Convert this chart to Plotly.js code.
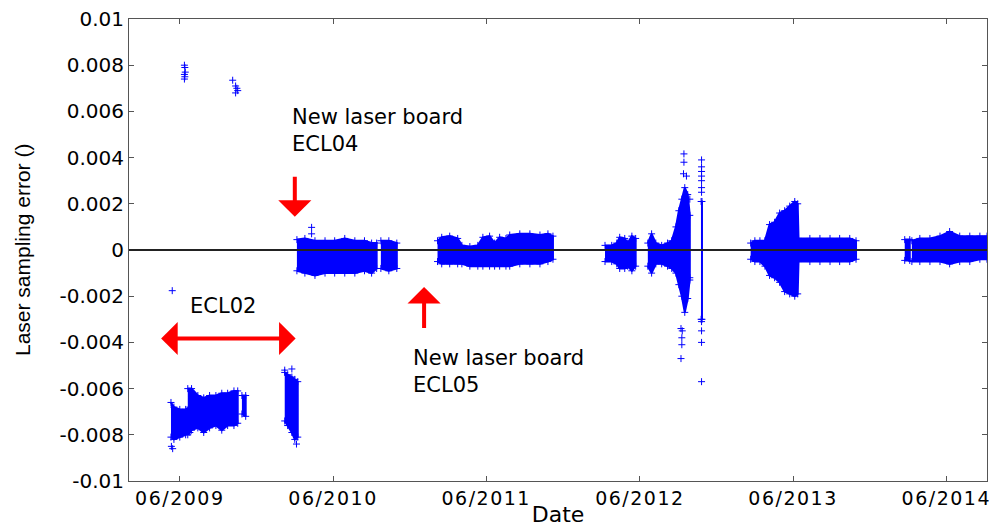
<!DOCTYPE html>
<html>
<head>
<meta charset="utf-8">
<script src="https://cdn.plot.ly/plotly-3.0.1.min.js"></script>
<style>
  html, body { margin: 0; padding: 0; background: #fff; }
  #chart { width: 998px; height: 527px; }
  .xtick text { letter-spacing: 1.5px; }
</style>
</head>
<body>
<div id="chart"></div>
<script>
// ---------- DATA ----------
// Each block: dates, upper edge (hi) and lower edge (lo) of the dense point cloud
const ecl02aDates = ['2009-05-11','2009-05-18','2009-06-01','2009-06-15','2009-06-25'];
const ecl02aHi = [-0.0066,-0.0068,-0.0069,-0.0069,-0.0068];
const ecl02aLo = [-0.0081,-0.0082,-0.0081,-0.0080,-0.0079];

const ecl02bDates = ['2009-06-20','2009-06-29','2009-07-14','2009-07-28','2009-08-11','2009-08-26','2009-09-09','2009-09-23','2009-10-08','2009-10-17'];
const ecl02bHi = [-0.0060,-0.0060,-0.0063,-0.0064,-0.0063,-0.0063,-0.0062,-0.0062,-0.0061,-0.0061];
const ecl02bLo = [-0.0080,-0.0078,-0.0077,-0.0079,-0.0077,-0.0076,-0.0078,-0.0076,-0.0076,-0.0075];

const ecl02cDates = ['2009-10-27','2009-11-05'];
const ecl02cHi = [-0.0063,-0.0063];
const ecl02cLo = [-0.0071,-0.0072];

const ecl02dDates = ['2010-02-06','2010-02-13','2010-02-23','2010-03-02','2010-03-09'];
const ecl02dHi = [-0.0053,-0.0054,-0.0055,-0.0056,-0.0057];
const ecl02dLo = [-0.0074,-0.0076,-0.0079,-0.0082,-0.0081];

const ecl04aDates = ['2010-03-07','2010-03-26','2010-04-19','2010-05-13','2010-06-05','2010-06-29','2010-07-23','2010-08-15','2010-09-01','2010-09-13'];
const ecl04aHi = [0.00045,0.0005,0.0004,0.0004,0.0004,0.0005,0.0004,0.0004,0.0003,0.0003];
const ecl04aLo = [-0.0009,-0.0010,-0.0011,-0.0010,-0.0010,-0.0010,-0.0010,-0.0009,-0.0010,-0.0008];

const ecl04bDates = ['2010-09-23','2010-10-12','2010-10-31'];
const ecl04bHi = [0.0004,0.0004,0.0003];
const ecl04bLo = [-0.0008,-0.0009,-0.0008];

const ecl05aDates = ['2011-02-05','2011-02-15','2011-03-06','2011-03-25','2011-04-04','2011-04-23','2011-05-12','2011-05-24','2011-06-09','2011-06-21','2011-07-03','2011-07-18','2011-07-27','2011-08-20','2011-09-13','2011-10-07','2011-10-26','2011-11-07'];
const ecl05aHi = [0.0004,0.00055,0.0006,0.0005,0.0002,0.00015,0.0002,0.00055,0.0006,0.0003,0.00055,0.0005,0.00065,0.0007,0.0007,0.00065,0.0007,0.0006];
const ecl05aLo = [-0.0005,-0.0006,-0.0006,-0.0006,-0.0006,-0.0007,-0.0007,-0.0007,-0.0007,-0.0007,-0.0007,-0.0007,-0.0007,-0.0006,-0.0006,-0.0006,-0.0005,-0.0004];

const y2012aDates = ['2012-03-10','2012-03-26','2012-04-07','2012-04-14','2012-04-26','2012-05-03','2012-05-13','2012-05-22'];
const y2012aHi = [0.0002,0.0002,0.0003,0.00055,0.0005,0.0003,0.0006,0.0005];
const y2012aLo = [-0.0005,-0.0005,-0.0006,-0.0008,-0.0008,-0.0007,-0.0009,-0.0007];

const y2012bDates = ['2012-06-20','2012-06-29','2012-07-09','2012-07-23','2012-08-06','2012-08-16','2012-08-26','2012-09-02','2012-09-09','2012-09-16','2012-09-23','2012-09-28'];
const y2012bHi = [0.0003,0.0007,0.0003,0.0002,0.0003,0.0004,0.0010,0.0017,0.0022,0.0027,0.0024,0.0015];
const y2012bLo = [-0.0007,-0.0010,-0.0006,-0.0006,-0.0007,-0.0008,-0.0010,-0.0015,-0.0020,-0.0027,-0.0021,-0.0012];

const y2012cDates = ['2012-10-25','2012-10-27'];
const y2012cHi = [0.0021,0.0021];
const y2012cLo = [-0.0030,-0.0030];

const y2013Dates = ['2013-02-20','2013-03-02','2013-03-14','2013-03-26','2013-04-06','2013-04-18','2013-04-30','2013-05-12','2013-05-24','2013-06-05','2013-06-12','2013-06-14','2013-07-11','2013-08-04','2013-08-28','2013-09-20','2013-10-14','2013-10-29'];
const y2013Hi = [0.0003,0.0004,0.0004,0.0004,0.0011,0.0012,0.0016,0.0017,0.0019,0.0021,0.0020,0.0005,0.0005,0.0005,0.0005,0.0005,0.0005,0.0004];
const y2013Lo = [-0.0004,-0.0005,-0.0005,-0.0007,-0.0011,-0.0012,-0.0014,-0.0018,-0.0019,-0.0020,-0.0019,-0.0005,-0.0005,-0.0005,-0.0005,-0.0005,-0.0005,-0.0004];

const y2014aDates = ['2014-02-22','2014-03-06'];
const y2014aHi = [0.00045,0.00045];
const y2014aLo = [-0.00045,-0.00045];

const y2014bDates = ['2014-03-11','2014-03-30','2014-04-23','2014-05-17','2014-06-09','2014-07-03','2014-07-27','2014-08-20','2014-09-06'];
const y2014bHi = [0.0004,0.0005,0.0005,0.0006,0.0008,0.0006,0.0006,0.0006,0.0006];
const y2014bLo = [-0.0005,-0.0005,-0.0005,-0.0005,-0.0006,-0.0005,-0.0005,-0.0004,-0.0004];

// Isolated points
const outlierDates = [
  '2009-05-14','2009-05-12','2009-05-15',
  '2009-06-12','2009-06-13','2009-06-14','2009-06-12','2009-06-13','2009-06-12',
  '2009-10-05','2009-10-12','2009-10-15','2009-10-17','2009-10-12',
  '2010-02-06','2010-02-23','2010-03-06',
  '2010-04-11','2010-04-11',
  '2012-09-14','2012-09-14','2012-09-13','2012-09-20','2012-09-28','2012-09-07','2012-09-10','2012-09-09','2012-09-09','2012-09-07','2012-09-28',
  '2012-10-26','2012-10-26','2012-10-26','2012-10-26','2012-10-26','2012-10-26','2012-10-26','2012-10-26','2012-10-26','2012-10-26','2012-10-26'
];
const outlierValues = [
  -0.00176,-0.0085,-0.0086,
  0.0080,0.0079,0.0077,0.0076,0.0075,0.0074,
  0.00735,0.0071,0.0070,0.0069,0.0068,
  -0.0052,-0.00515,-0.0084,
  0.00098,0.0007,
  0.00416,0.0038,0.0033,0.0032,0.0022,-0.0034,-0.0035,-0.0038,-0.0041,-0.0047,-0.0013,
  0.0039,0.0036,0.0034,0.0032,0.0030,0.0027,0.0025,-0.0031,-0.0035,-0.0040,-0.0057
];

const xTickVals = ['2009-06-01','2010-06-01','2011-06-01','2012-06-01','2013-06-01','2014-06-01'];
const xTickText = ['06/2009','06/2010','06/2011','06/2012','06/2013','06/2014'];
const yTickVals = [-0.01,-0.008,-0.006,-0.004,-0.002,0,0.002,0.004,0.006,0.008,0.01];
const yTickText = ['-0.01','-0.008','-0.006','-0.004','-0.002','0','0.002','0.004','0.006','0.008','0.01'];

// ---------- BUILD ----------
const BLUE = '#0000ff';
const blocks = [
  [ecl02aDates, ecl02aHi, ecl02aLo],
  [ecl02bDates, ecl02bHi, ecl02bLo],
  [ecl02cDates, ecl02cHi, ecl02cLo],
  [ecl02dDates, ecl02dHi, ecl02dLo],
  [ecl04aDates, ecl04aHi, ecl04aLo],
  [ecl04bDates, ecl04bHi, ecl04bLo],
  [ecl05aDates, ecl05aHi, ecl05aLo],
  [y2012aDates, y2012aHi, y2012aLo],
  [y2012bDates, y2012bHi, y2012bLo],
  [y2012cDates, y2012cHi, y2012cLo],
  [y2013Dates, y2013Hi, y2013Lo],
  [y2014aDates, y2014aHi, y2014aLo],
  [y2014bDates, y2014bHi, y2014bLo]
];

const traces = blocks.map(([d, hi, lo]) => ({
  type: 'scatter',
  mode: 'lines+markers',
  x: d.concat(d.slice().reverse()),
  y: hi.concat(lo.slice().reverse()),
  fill: 'toself',
  fillcolor: BLUE,
  line: { color: BLUE, width: 2 },
  marker: { symbol: 'cross-thin', size: 5, color: BLUE, line: { color: BLUE, width: 1 } },
  hoverinfo: 'skip',
  showlegend: false
}));

traces.push({
  type: 'scatter',
  mode: 'markers',
  x: outlierDates,
  y: outlierValues,
  marker: { symbol: 'cross-thin', size: 5, color: BLUE, line: { color: BLUE, width: 1 } },
  showlegend: false
});

const txtFont = { family: 'DejaVu Sans, Arial, sans-serif', size: 21, color: '#000' };
const RED = '#ff0000';

const layout = {
  width: 998,
  height: 527,
  margin: { l: 129, r: 11, t: 19, b: 46 },
  paper_bgcolor: '#ffffff',
  plot_bgcolor: '#ffffff',
  showlegend: false,
  xaxis: {
    type: 'date',
    range: ['2009-01-31', '2014-09-06'],
    tickmode: 'array',
    tickvals: xTickVals,
    ticktext: xTickText,
    ticks: 'inside',
    ticklen: 5,
    tickcolor: '#555',
    mirror: 'ticks',
    showline: true,
    linecolor: '#555',
    linewidth: 1,
    showgrid: false,
    zeroline: false,
    tickfont: { family: 'DejaVu Sans, Arial, sans-serif', size: 19, color: '#000' },
    title: { text: 'Date', font: { family: 'DejaVu Sans, Arial, sans-serif', size: 22, color: '#000' } }
  },
  yaxis: {
    range: [-0.01, 0.01],
    tickmode: 'array',
    tickvals: yTickVals,
    ticktext: yTickText,
    ticks: 'inside',
    ticklen: 5,
    tickcolor: '#555',
    mirror: 'ticks',
    showline: true,
    linecolor: '#555',
    linewidth: 1,
    showgrid: false,
    zeroline: false,
    tickfont: { family: 'DejaVu Sans, Arial, sans-serif', size: 20, color: '#000' }
  },
  shapes: [
    { type: 'line', xref: 'paper', x0: 0, x1: 1, yref: 'y', y0: 0, y1: 0, layer: 'above',
      line: { color: '#222', width: 2 } }
  ],
  annotations: [
    { x: -0.1247, y: 0.5, xref: 'paper', yref: 'paper', xanchor: 'center', yanchor: 'middle',
      textangle: -90, text: 'Laser sampling error ()', showarrow: false,
      font: { family: 'Liberation Sans Narrow, Liberation Sans, Arial, sans-serif', size: 21, color: '#000' } },
    { x: '2010-02-19', y: 0.00636, xref: 'x', yref: 'y', xanchor: 'left', yanchor: 'top', align: 'left',
      text: 'New laser board<br>ECL04', showarrow: false, font: txtFont },
    { x: '2010-12-03', y: -0.00408, xref: 'x', yref: 'y', xanchor: 'left', yanchor: 'top', align: 'left',
      text: 'New laser board<br>ECL05', showarrow: false, font: txtFont },
    { x: '2009-06-21', y: -0.00183, xref: 'x', yref: 'y', xanchor: 'left', yanchor: 'top', align: 'left',
      text: 'ECL02', showarrow: false, font: txtFont },
    { x: '2010-03-02', y: 0.00144, ax: '2010-03-02', ay: 0.00324, xref: 'x', yref: 'y', axref: 'x', ayref: 'y',
      text: '', showarrow: true, arrowhead: 1, arrowsize: 1.38, arrowwidth: 4, arrowcolor: RED },
    { x: '2011-01-04', y: -0.0016, ax: '2011-01-04', ay: -0.00344, xref: 'x', yref: 'y', axref: 'x', ayref: 'y',
      text: '', showarrow: true, arrowhead: 1, arrowsize: 1.38, arrowwidth: 4, arrowcolor: RED },
    { x: '2010-03-04', y: -0.00383, ax: '2009-04-14', ay: -0.00383, xref: 'x', yref: 'y', axref: 'x', ayref: 'y',
      text: '', showarrow: true, arrowside: 'end+start', arrowhead: 1, startarrowhead: 1,
      arrowsize: 1.38, startarrowsize: 1.38, arrowwidth: 4, arrowcolor: RED }
  ]
};

Plotly.newPlot('chart', traces, layout, { staticPlot: true, displayModeBar: false });
</script>
</body>
</html>
